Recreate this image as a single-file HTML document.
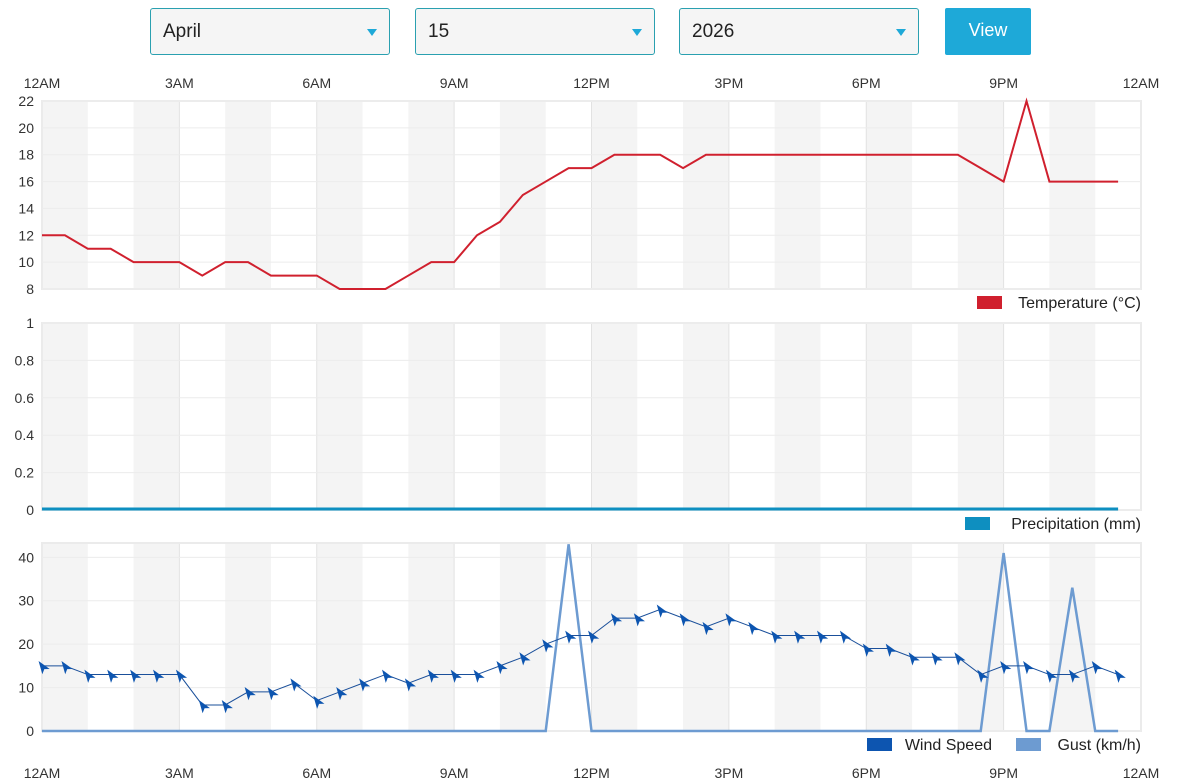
<!DOCTYPE html>
<html><head><meta charset="utf-8"><style>
body{margin:0;background:#fff;font-family:"Liberation Sans",sans-serif;width:1191px;height:784px;overflow:hidden;position:relative}
.sel{position:absolute;top:8px;height:47px;width:240px;border:1px solid #2aa0b0;border-radius:3px;background:#f5f5f5;box-sizing:border-box;font-size:19px;color:#222;line-height:45px;padding-left:12px}
.sel:after{content:"";position:absolute;right:12px;top:20px;border-left:5px solid transparent;border-right:5px solid transparent;border-top:7px solid #1ea9d8}
.btn{position:absolute;left:945px;top:8px;width:86px;height:47px;background:#1ea9d8;color:#fff;font-size:18px;text-align:center;line-height:45px;border-radius:2px}
</style></head><body>
<div class="sel" style="left:150px">April</div>
<div class="sel" style="left:415px">15</div>
<div class="sel" style="left:679px">2026</div>
<div class="btn">View</div>
<svg id="s" width="1191" height="784" style="position:absolute;left:0;top:0" font-family="Liberation Sans, sans-serif"></svg>
<script>
const s=document.getElementById('s');let h='';
const X0=42,X1=1141,step=(X1-X0)/48;
const ticks=['12AM','3AM','6AM','9AM','12PM','3PM','6PM','9PM','12AM'];
function frame(top,bot){
 h+=`<rect x="${X0}" y="${top}" width="${X1-X0}" height="${bot-top}" fill="#fff"/>`;
 for(let k=0;k<24;k+=2){h+=`<rect x="${X0+k*step*2}" y="${top}" width="${step*2}" height="${bot-top}" fill="#f4f4f4"/>`;}
 for(let i=1;i<8;i++){let x=X0+i*step*6;h+=`<line x1="${x}" y1="${top}" x2="${x}" y2="${bot}" stroke="#e2e2e2"/>`;}
 h+=`<rect x="${X0}" y="${top}" width="${X1-X0}" height="${bot-top}" fill="none" stroke="#ebebeb" stroke-width="2"/>`;
}
function ylab(top,bot,vals,min,max){
 vals.forEach(v=>{let y=bot-(v-min)/(max-min)*(bot-top);
 h+=`<line x1="${X0}" y1="${y}" x2="${X1}" y2="${y}" stroke="#ececec"/>`;
 h+=`<text x="34" y="${y+5}" text-anchor="end" font-size="14" fill="#333">${String(v)}</text>`;});
}
ticks.forEach((t,i)=>{let x=X0+i*step*6;h+=`<text x="${x}" y="88" text-anchor="middle" font-size="14" fill="#333">${t}</text><text x="${x}" y="778" text-anchor="middle" font-size="14" fill="#333">${t}</text>`;});
frame(101,289);ylab(101,289,[8,10,12,14,16,18,20,22],8,22);
const T=[12,12,11,11,10,10,10,9,10,10,9,9,9,8,8,8,9,10,10,12,13,15,16,17,17,18,18,18,17,18,18,18,18,18,18,18,18,18,18,18,18,17,16,22,16,16,16,16];
h+=`<polyline fill="none" stroke="#d0202e" stroke-width="2" points="${T.map((v,i)=>(X0+i*step)+','+(289-(v-8)/14*188)).join(' ')}"/>`;
h+=`<rect x="977" y="296" width="25" height="13" fill="#d0202e"/><text x="1141" y="308" text-anchor="end" font-size="16" fill="#222">Temperature (°C)</text>`;
frame(323,510);ylab(323,510,[0,0.2,0.4,0.6,0.8,1],0,1);
h+=`<line x1="${X0}" y1="509" x2="${X0+47*step}" y2="509" stroke="#0e8fc0" stroke-width="3"/>`;
h+=`<rect x="965" y="517" width="25" height="13" fill="#0e8fc0"/><text x="1141" y="529" text-anchor="end" font-size="16" fill="#222">Precipitation (mm)</text>`;
frame(543,731);ylab(543,731,[0,10,20,30,40],0,43.3);
const yw=v=>731-v/43.3*188;
const G=T.map(()=>0);G[23]=43;G[42]=41;G[45]=33;
h+=`<polyline fill="none" stroke="#6d9bd1" stroke-width="2.5" points="${G.map((v,i)=>(X0+i*step)+','+yw(v)).join(' ')}"/>`;
const W=[15,15,13,13,13,13,13,6,6,9,9,11,7,9,11,13,11,13,13,13,15,17,20,22,22,26,26,28,26,24,26,24,22,22,22,22,19,19,17,17,17,13,15,15,13,13,15,13];
h+=`<polyline fill="none" stroke="#1a4f9a" stroke-width="1" points="${W.map((v,i)=>(X0+i*step)+','+yw(v)).join(' ')}"/>`;
W.forEach((v,i)=>{let x=X0+i*step,y=yw(v);h+=`<polygon transform="translate(${x},${y}) rotate(-35)" points="0,-6 4.5,7 0,4 -4.5,7" fill="#0d55b0"/>`;});
h+=`<rect x="867" y="738" width="25" height="13" fill="#0d55b0"/><text x="992" y="750" text-anchor="end" font-size="16" fill="#222">Wind Speed</text>`;
h+=`<rect x="1016" y="738" width="25" height="13" fill="#6d9bd1"/><text x="1141" y="750" text-anchor="end" font-size="16" fill="#222">Gust (km/h)</text>`;
s.innerHTML=h;
</script>
</body></html>
